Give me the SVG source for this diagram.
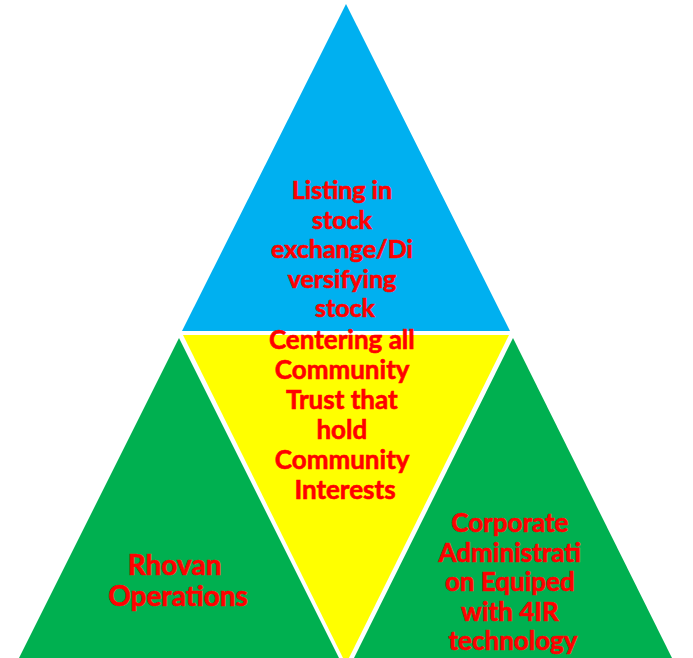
<svg xmlns="http://www.w3.org/2000/svg" width="693" height="658" viewBox="0 0 693 658">
  <style>
    .lbl { font-family: Lato, "Liberation Sans", sans-serif; font-weight: bold; fill: #FF0000; stroke: #FF0000; stroke-width: 0.6px; text-anchor: middle; }
    .t25 { font-size: 25px; }
    .t26 { font-size: 26px; }
    .t28 { font-size: 28px; }
  </style>
  <rect width="693" height="658" fill="#FFFFFF"/>

  <!-- top: listing -->
  <g id="listing">
    <polygon points="346,4 182,331 510,331" fill="#00B0F0"/>
    <text class="lbl t25" x="345">
      <tspan x="345" y="199">Listing in</tspan>
      <tspan x="345" y="228.5">stock</tspan>
      <tspan x="345" y="258">exchange/Di</tspan>
      <tspan x="345" y="287.5">versifying</tspan>
      <tspan x="345" y="317">stock</tspan>
    </text>
  </g>

  <!-- centre: community trust (inverted) -->
  <g id="community-trust">
    <polygon points="183,335 509,335 346,664" fill="#FFFF00"/>
    <text class="lbl t26" x="345">
      <tspan x="345" y="349">Centering all</tspan>
      <tspan x="345" y="379">Community</tspan>
      <tspan x="345" y="409">Trust that</tspan>
      <tspan x="345" y="439">hold</tspan>
      <tspan x="345" y="469">Community</tspan>
      <tspan x="345" y="499">Interests</tspan>
    </text>
  </g>

  <!-- bottom left: operations -->
  <g id="operations">
    <polygon points="179,338 19,658 339,658" fill="#00B050"/>
    <text class="lbl t28" x="178">
      <tspan x="178" y="575">Rhovan</tspan>
      <tspan x="178" y="606">Operations</tspan>
    </text>
  </g>

  <!-- bottom right: administration -->
  <g id="administration">
    <polygon points="513,338 354,658 672,658" fill="#00B050"/>
    <text class="lbl t26" x="513">
      <tspan x="513" y="532">Corporate</tspan>
      <tspan x="513" y="561.5">Administrati</tspan>
      <tspan x="513" y="591">on Equiped</tspan>
      <tspan x="513" y="620.5">with 4IR</tspan>
      <tspan x="513" y="650">technology</tspan>
    </text>
  </g>

  <g id="connectors"/>
</svg>
